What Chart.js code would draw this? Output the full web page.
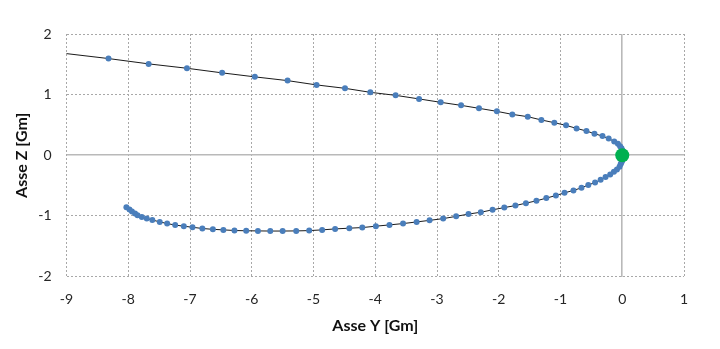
<!DOCTYPE html>
<html>
<head>
<meta charset="utf-8">
<script src="https://cdn.jsdelivr.net/npm/chart.js@4/dist/chart.umd.min.js"></script>
<style>
  html, body { margin: 0; padding: 0; background: #fff; }
  #wrap { width: 720px; height: 349px; position: relative; }
</style>
</head>
<body>
<div id="wrap"><canvas id="c"></canvas></div>
<script>
// Trajectory samples: horizontal coordinate (Asse Y) and vertical coordinate (Asse Z), in Gm
const asseY = [
  -9.03, -8.32, -7.67, -7.05, -6.48, -5.95, -5.42, -4.95, -4.49, -4.08,
  -3.67, -3.29, -2.94, -2.61, -2.32, -2.03, -1.78, -1.53, -1.31, -1.10,
  -0.91, -0.74, -0.58, -0.45, -0.32, -0.22, -0.13, -0.07, -0.035, -0.012,
  0.004, 0.014, 0.018, 0.016, 0.010, 0.000, -0.012, -0.026, -0.044, -0.086,
  -0.135, -0.195, -0.27, -0.35, -0.44, -0.55, -0.66, -0.79, -0.935, -1.075,
  -1.23, -1.39, -1.56, -1.73, -1.91, -2.10, -2.29, -2.49, -2.69, -2.90,
  -3.12, -3.33, -3.55, -3.77, -3.99, -4.21, -4.42, -4.65, -4.86, -5.07,
  -5.28, -5.50, -5.70, -5.90, -6.09, -6.28, -6.46, -6.63, -6.80, -6.96,
  -7.10, -7.24, -7.37, -7.49, -7.61, -7.70, -7.78, -7.85, -7.89, -7.94,
  -7.98, -8.03
];
const asseZ = [
  1.680, 1.595, 1.507, 1.435, 1.359, 1.293, 1.231, 1.160, 1.104, 1.038,
  0.988, 0.929, 0.873, 0.823, 0.774, 0.724, 0.674, 0.636, 0.582, 0.537,
  0.493, 0.443, 0.400, 0.355, 0.317, 0.275, 0.228, 0.188, 0.150, 0.115,
  0.080, 0.045, 0.012, -0.020, -0.053, -0.085, -0.115, -0.150, -0.190, -0.235,
  -0.273, -0.317, -0.360, -0.405, -0.450, -0.490, -0.537, -0.580, -0.620, -0.664,
  -0.707, -0.752, -0.790, -0.830, -0.863, -0.900, -0.940, -0.970, -1.008, -1.045,
  -1.074, -1.100, -1.127, -1.149, -1.170, -1.193, -1.203, -1.215, -1.231, -1.243,
  -1.248, -1.250, -1.250, -1.248, -1.246, -1.241, -1.231, -1.222, -1.208, -1.188,
  -1.170, -1.152, -1.127, -1.099, -1.068, -1.045, -1.017, -0.989, -0.962, -0.929,
  -0.896, -0.856
];
// Central body position
const centroY = [0];
const centroZ = [0];

// Axis ranges and tick spacing
const xRange = [-9, 1];
const yRange = [-2, 2];
const tickStep = 1;

const traiettoria = asseY.map((v, i) => ({ x: v, y: asseZ[i] }));
const centro = centroY.map((v, i) => ({ x: v, y: centroZ[i] }));

const FONT = "Lato, 'Liberation Sans', sans-serif";

const gridOpts = {
  color: ctx => (ctx.tick && ctx.tick.value === 0) ? '#b9b9b9' : '#a8a8a8',
  lineWidth: ctx => (ctx.tick && ctx.tick.value === 0) ? 1.6 : 1,
  drawTicks: false
};
const borderOpts = {
  display: false,
  dash: ctx => (ctx.tick && ctx.tick.value === 0) ? [] : [2, 2]
};

new Chart(document.getElementById('c'), {
  type: 'scatter',
  data: {
    datasets: [
      {
        label: 'Centro',
        data: centro,
        pointRadius: 7,
        pointHoverRadius: 7,
        pointBackgroundColor: '#00b050',
        pointBorderColor: '#00b050',
        pointBorderWidth: 0,
        showLine: false,
        order: 0
      },
      {
        label: 'Traiettoria',
        data: traiettoria,
        showLine: true,
        borderColor: '#1a1a1a',
        borderWidth: 1,
        tension: 0,
        clip: 0,
        pointRadius: ctx => (ctx.raw && ctx.raw.x < xRange[0]) ? 0 : 3,
        pointHoverRadius: 3,
        pointBackgroundColor: '#4a7ebb',
        pointBorderColor: '#4a7ebb',
        pointBorderWidth: 0,
        order: 1
      }
    ]
  },
  options: {
    responsive: true,
    maintainAspectRatio: false,
    animation: false,
    events: [],
    layout: { padding: { left: 0, right: 36, top: 34, bottom: 0 } },
    plugins: {
      legend: { display: false },
      tooltip: { enabled: false }
    },
    scales: {
      x: {
        type: 'linear',
        min: xRange[0],
        max: xRange[1],
        ticks: {
          stepSize: tickStep,
          padding: 15,
          color: '#262626',
          font: { family: FONT, size: 14 }
        },
        grid: gridOpts,
        border: borderOpts,
        title: {
          display: true,
          text: 'Asse Y [Gm]',
          color: '#111',
          font: { family: FONT, size: 16, weight: 'bold' },
          padding: { top: 4, bottom: 14 }
        },
        afterFit: s => { s.height = 72.5; }
      },
      y: {
        type: 'linear',
        min: yRange[0],
        max: yRange[1],
        ticks: {
          stepSize: tickStep,
          padding: 15,
          color: '#262626',
          font: { family: FONT, size: 14 }
        },
        grid: gridOpts,
        border: borderOpts,
        title: {
          display: true,
          text: 'Asse Z [Gm]',
          color: '#111',
          font: { family: FONT, size: 16, weight: 'bold' },
          padding: { top: 12, bottom: 4 }
        },
        afterFit: s => { s.width = 66.5; }
      }
    }
  }
});
</script>
</body>
</html>
